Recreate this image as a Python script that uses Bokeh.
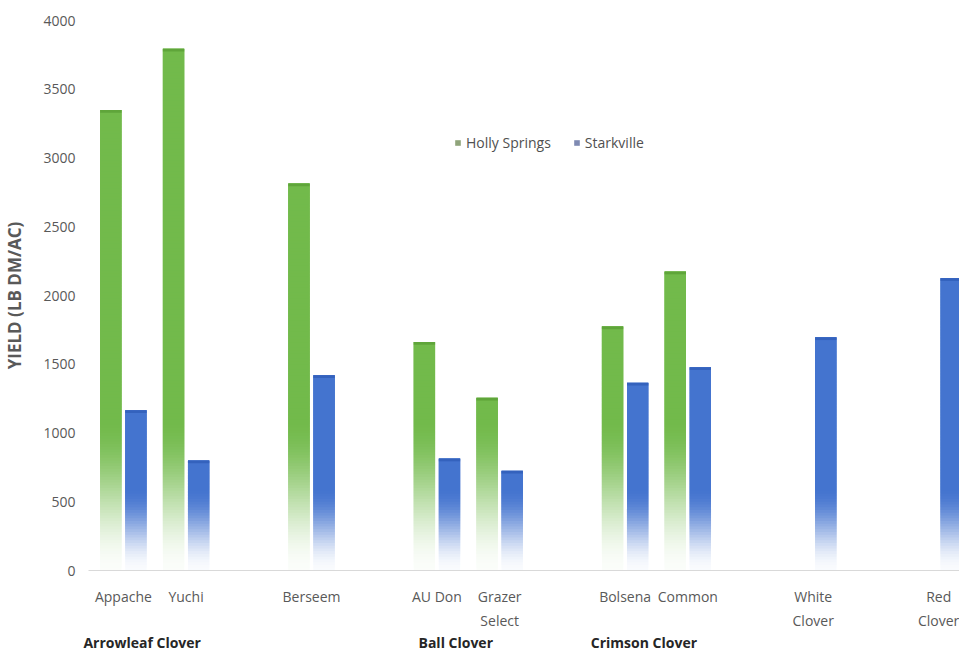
import numpy as np
from bokeh.plotting import figure
from bokeh.models import FixedTicker, LinearAxis, Range1d, Legend, LegendItem, ColumnDataSource
from bokeh.embed import file_html
from bokeh.resources import INLINE

# ---------------- data ----------------
categories = ["Appache", "Yuchi", "", "Berseem", "", "AU Don", "Grazer\nSelect", "",
              "Bolsena", "Common", "", "White\nClover", "", "Red\nClover"]
holly_springs = [3350, 3795, None, 2815, None, 1662, 1256, None, 1775, 2174, None, None, None, None]
starkville = [1165, 800, None, 1420, None, 814, 725, None, 1365, 1478, None, 1696, None, 2126]
series_names = ["Holly Springs", "Starkville"]
groups = ["Arrowleaf Clover", "Ball Clover", "Crimson Clover"]
group_members = [["Appache", "Yuchi"], ["AU Don", "Grazer\nSelect"], ["Bolsena", "Common"]]
y_ticks = [0, 500, 1000, 1500, 2000, 2500, 3000, 3500, 4000]
y_title = "YIELD (LB DM/AC)"

# ---------------- style ----------------
GREEN_BODY, GREEN_CAP, GREEN_LEG = "#72ba4b", "#5fa53a", "#8fa47a"
BLUE_BODY, BLUE_CAP, BLUE_LEG = "#4474cf", "#3462bd", "#7f8ab2"
TXT = "#595959"
FONT = "Open Sans"


def rgb(h):
    h = h.lstrip("#")
    return tuple(int(h[i:i + 2], 16) for i in (0, 2, 4))


def mix(col, t):
    c = rgb(col)
    return "#%02x%02x%02x" % tuple(int(round(255 + (ch - 255) * t)) for ch in c)


def pieces(xs, vals, body, fade_top, step=20.0):
    """Split each bar into overlapping slices to imitate a fade-to-white gradient at its foot."""
    L, R, B, T, C = [], [], [], [], []
    for x, v in zip(xs, vals):
        if v is None:
            continue
        b = 0.0
        while b < v:
            mid = b + step / 2
            frac = min(mid / fade_top, 1.0)
            s = frac * frac * (3 - 2 * frac)  # smoothstep
            L.append(x[0]); R.append(x[1]); B.append(b); T.append(min(b + 3 * step, v))
            C.append(mix(body, 0.03 + 0.97 * s))
            b += step
    return ColumnDataSource(dict(left=L, right=R, bottom=B, top=T, color=C))


p = figure(frame_width=874, frame_height=550,
           x_range=Range1d(-0.556, 13.38), y_range=Range1d(0, 4000),
           min_border_left=85, min_border_right=0, min_border_top=20, min_border_bottom=0,
           output_backend="svg", toolbar_location=None)
p.outline_line_color = None
p.grid.visible = False
p.background_fill_color = "white"
p.border_fill_color = "white"

idx = np.arange(len(categories))
W = 0.34
OFF = 0.2
series = [
    (holly_springs, -OFF, GREEN_BODY, GREEN_CAP, 1100),
    (starkville, OFF, BLUE_BODY, BLUE_CAP, 600),
]
for vals, off, body, cap, ft in series:
    xs = [(i + off - W / 2, i + off + W / 2) for i in idx]
    src = pieces(xs, vals, body, ft)
    p.quad(left="left", right="right", bottom="bottom", top="top", fill_color="color",
           line_color=None, source=src)
    capsrc = dict(left=[], right=[], bottom=[], top=[])
    for x, v in zip(xs, vals):
        if v is None:
            continue
        capsrc["left"].append(x[0]); capsrc["right"].append(x[1])
        capsrc["bottom"].append(v - 20); capsrc["top"].append(v)
    p.quad(source=ColumnDataSource(capsrc), left="left", right="right", bottom="bottom", top="top",
           fill_color=cap, line_color=None)

# legend using off-range dummy renderers
r1 = p.quad(left=[-5], right=[-4], bottom=[0], top=[1], fill_color=GREEN_LEG, line_color=None)
r2 = p.quad(left=[-5], right=[-4], bottom=[0], top=[1], fill_color=BLUE_LEG, line_color=None)
legend = Legend(items=[LegendItem(label=series_names[0], renderers=[r1]),
                       LegendItem(label=series_names[1], renderers=[r2])],
                orientation="horizontal", location=(366, 418),
                glyph_width=7, glyph_height=7, label_standoff=5, spacing=22,
                padding=0, margin=0, border_line_color=None, background_fill_alpha=0,
                label_text_font=FONT, label_text_font_size="14px", label_text_color="#505050")
p.add_layout(legend)

# y axis
ya = p.yaxis[0]
ya.ticker = FixedTicker(ticks=y_ticks)
ya.axis_line_color = None
ya.major_tick_line_color = None
ya.minor_tick_line_color = None
ya.major_label_text_font = FONT
ya.major_label_text_font_size = "14px"
ya.major_label_text_color = TXT
ya.major_label_standoff = 7
ya.axis_label = y_title
ya.axis_label_text_font = FONT
ya.axis_label_text_font_size = "17px"
ya.axis_label_text_font_style = "bold"
ya.axis_label_text_color = TXT
ya.axis_label_standoff = 14


def style_x(ax, size, bold=False, color=TXT):
    ax.axis_line_color = None
    ax.major_tick_line_color = None
    ax.minor_tick_line_color = None
    ax.major_tick_out = 0
    ax.major_tick_in = 0
    ax.major_label_text_font = FONT
    ax.major_label_text_font_size = size
    ax.major_label_text_color = color
    ax.major_label_text_font_style = "bold" if bold else "normal"


# x axis line 1
xa = p.xaxis[0]
t1 = [int(i) for i, c in enumerate(categories) if c]
xa.ticker = FixedTicker(ticks=t1)
xa.major_label_overrides = {i: categories[i].split("\n")[0] for i in t1}
style_x(xa, "14px")
xa.axis_line_color = "#d9d9d9"
xa.major_label_standoff = 16

# x axis line 2
t2 = [int(i) for i, c in enumerate(categories) if "\n" in c]
xa2 = LinearAxis(ticker=FixedTicker(ticks=t2),
                 major_label_overrides={i: categories[i].split("\n")[1] for i in t2})
style_x(xa2, "14px")
xa2.major_label_standoff = 2
p.add_layout(xa2, "below")

# group axis (group label centred slightly left of its members' centre)
gpos = [float(np.mean([categories.index(m) for m in mem])) - 0.2 for mem in group_members]
xa3 = LinearAxis(ticker=FixedTicker(ticks=gpos),
                 major_label_overrides={g: n for g, n in zip(gpos, groups)})
style_x(xa3, "14px", bold=True, color="#262626")
xa3.major_label_standoff = 0
p.add_layout(xa3, "below")

open("out.html", "w").write(file_html(p, INLINE))
